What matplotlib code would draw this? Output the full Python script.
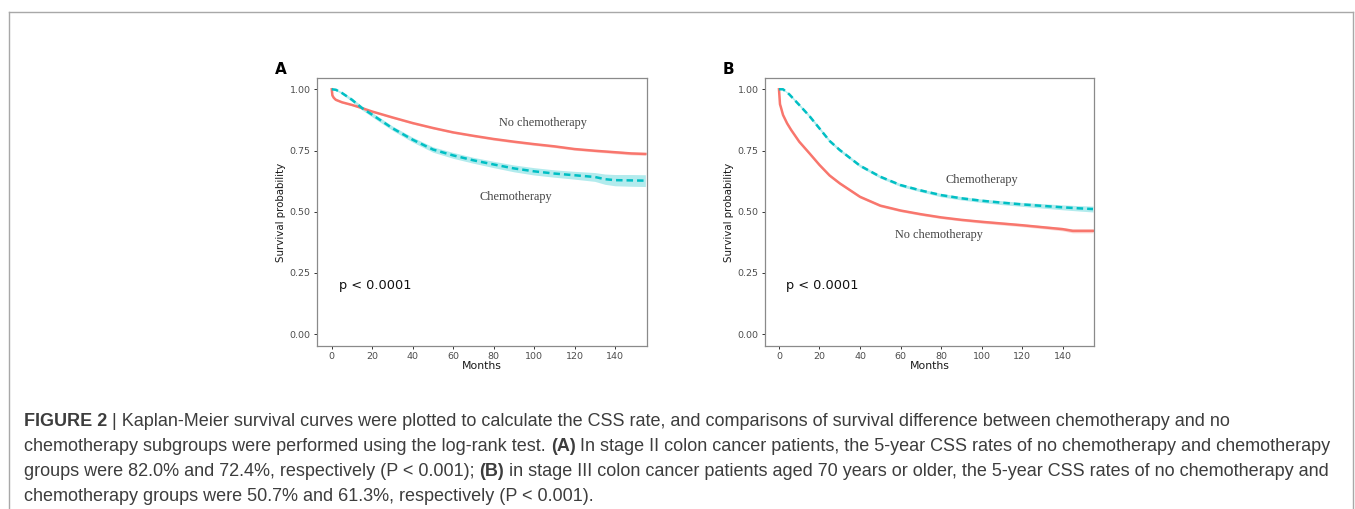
import matplotlib
matplotlib.use("Agg")
import matplotlib.pyplot as plt
import numpy as np

# ---------------- data ----------------
a_nochemo_t = [0, 0.3, 1, 2, 5, 10, 15, 20, 30, 40, 50, 60, 70, 80, 90, 100, 110, 120, 130, 140, 148, 155]
a_nochemo_s = [1.0, 0.975, 0.965, 0.957, 0.947, 0.936, 0.923, 0.909, 0.885, 0.862, 0.842, 0.824, 0.810, 0.797, 0.786, 0.776, 0.767, 0.756, 0.749, 0.743, 0.738, 0.736]
a_nochemo_ci = [0.0, 0.002, 0.002, 0.003, 0.003, 0.003, 0.003, 0.003, 0.004, 0.004, 0.004, 0.004, 0.004, 0.005, 0.005, 0.005, 0.005, 0.005, 0.005, 0.006, 0.006, 0.006]

a_chemo_t = [0, 2, 5, 10, 15, 20, 30, 40, 50, 60, 70, 80, 90, 100, 110, 120, 130, 135, 140, 148, 155]
a_chemo_s = [1.0, 0.998, 0.985, 0.957, 0.923, 0.896, 0.841, 0.794, 0.754, 0.730, 0.710, 0.693, 0.677, 0.665, 0.656, 0.649, 0.642, 0.633, 0.629, 0.628, 0.627]
a_chemo_ci = [0.0, 0.003, 0.005, 0.007, 0.008, 0.009, 0.009, 0.010, 0.011, 0.012, 0.012, 0.013, 0.014, 0.015, 0.015, 0.016, 0.018, 0.021, 0.023, 0.024, 0.024]

b_nochemo_t = [0, 0.5, 1, 2, 4, 6, 10, 15, 20, 25, 30, 40, 50, 60, 70, 80, 90, 100, 110, 120, 130, 140, 145, 155]
b_nochemo_s = [1.0, 0.939, 0.925, 0.895, 0.861, 0.834, 0.786, 0.739, 0.691, 0.648, 0.616, 0.561, 0.525, 0.505, 0.490, 0.477, 0.467, 0.459, 0.452, 0.445, 0.437, 0.429, 0.422, 0.422]
b_nochemo_ci = [0.0, 0.004, 0.004, 0.005, 0.005, 0.005, 0.005, 0.005, 0.005, 0.005, 0.005, 0.005, 0.005, 0.005, 0.005, 0.005, 0.005, 0.006, 0.006, 0.006, 0.006, 0.007, 0.008, 0.008]

b_chemo_t = [0, 2, 5, 10, 15, 20, 25, 30, 40, 50, 60, 70, 80, 90, 100, 110, 120, 130, 140, 148, 155]
b_chemo_s = [1.0, 1.0, 0.980, 0.936, 0.891, 0.840, 0.789, 0.752, 0.688, 0.643, 0.609, 0.587, 0.568, 0.555, 0.545, 0.537, 0.530, 0.524, 0.518, 0.514, 0.511]
b_chemo_ci = [0.0, 0.002, 0.004, 0.005, 0.006, 0.006, 0.006, 0.006, 0.006, 0.006, 0.006, 0.006, 0.007, 0.007, 0.007, 0.008, 0.008, 0.009, 0.010, 0.011, 0.012]

x_ticks = [0, 20, 40, 60, 80, 100, 120, 140]
y_ticks = [0.00, 0.25, 0.50, 0.75, 1.00]
y_ticklabels = ["0.00", "0.25", "0.50", "0.75", "1.00"]

panels = [
    dict(letter="A",
         red=(a_nochemo_t, a_nochemo_s, a_nochemo_ci),
         teal=(a_chemo_t, a_chemo_s, a_chemo_ci),
         labels=[("No chemotherapy", 104.4, 0.862), ("Chemotherapy", 91, 0.56)]),
    dict(letter="B",
         red=(b_nochemo_t, b_nochemo_s, b_nochemo_ci),
         teal=(b_chemo_t, b_chemo_s, b_chemo_ci),
         labels=[("Chemotherapy", 100, 0.63), ("No chemotherapy", 79, 0.405)]),
]

caption_lines = [
    [("FIGURE 2", "bold"), (" | Kaplan-Meier survival curves were plotted to calculate the CSS rate, and comparisons of survival difference between chemotherapy and no", "normal")],
    [("chemotherapy subgroups were performed using the log-rank test. ", "normal"), ("(A)", "bold"), (" In stage II colon cancer patients, the 5-year CSS rates of no chemotherapy and chemotherapy", "normal")],
    [("groups were 82.0% and 72.4%, respectively (P < 0.001); ", "normal"), ("(B)", "bold"), (" in stage III colon cancer patients aged 70 years or older, the 5-year CSS rates of no chemotherapy and", "normal")],
    [("chemotherapy groups were 50.7% and 61.3%, respectively (P < 0.001).", "normal")],
]

# ---------------- figure ----------------
W, H = 1355, 509
fig = plt.figure(figsize=(W / 100, H / 100), dpi=100)

RED = "#F8766D"
TEAL = "#00BFC4"

ax_rects = [
    (317 / W, 1 - 346 / H, 330 / W, 268 / H),
    (765 / W, 1 - 346 / H, 329 / W, 268 / H),
]
xlims = [(-7.3, 155.8), (-6.9, 155.5)]

for p, rect, xl in zip(panels, ax_rects, xlims):
    ax = fig.add_axes(rect)
    for key, col, dashed in (("red", RED, False), ("teal", TEAL, True)):
        t, s, ci = p[key]
        t = np.array(t); s = np.array(s); ci = np.array(ci)
        ax.fill_between(t, s - ci, s + ci, color=col, alpha=0.3, lw=0)
        if dashed:
            ax.plot(t, s, color=col, lw=1.8, dashes=(2.6, 1.6), solid_capstyle="butt")
        else:
            ax.plot(t, s, color=col, lw=1.8)
    ax.set_xlim(*xl)
    ax.set_ylim(-0.048, 1.046)
    ax.set_xticks(x_ticks)
    ax.set_yticks(y_ticks)
    ax.set_yticklabels(y_ticklabels)
    ax.tick_params(labelsize=6.8, labelcolor="#4D4D4D", color="#333333", length=2.5, width=0.7, pad=2)
    for sp in ax.spines.values():
        sp.set_color("#8a8a8a")
        sp.set_linewidth(0.9)
    ax.set_xlabel("Months", fontsize=7.8, color="#1a1a1a", labelpad=0)
    ax.set_ylabel("Survival probability", fontsize=7.4, color="#1a1a1a", labelpad=3)
    ax.text(3.7, 0.197, "p < 0.0001", fontsize=9.3, color="#111111", va="center", ha="left")
    for txt, x, y in p["labels"]:
        ax.text(x, y, txt, fontsize=8.8, family="Liberation Serif", color="#444444", ha="center", va="center")
    fig.text((rect[0] * W - 42) / W, 1 - 70 / H, p["letter"], fontsize=11, weight="bold", ha="left", va="center")

# figure border (left, top, right)
fig.add_artist(plt.Line2D([9 / W, 9 / W], [0, 1 - 12 / H], color="#a8a8a8", lw=1.0))
fig.add_artist(plt.Line2D([9 / W, 1353 / W], [1 - 12 / H, 1 - 12 / H], color="#a8a8a8", lw=1.0))
fig.add_artist(plt.Line2D([1353 / W, 1353 / W], [0, 1 - 12 / H], color="#a8a8a8", lw=1.0))

# caption with mixed weights
fig.canvas.draw()
renderer = fig.canvas.get_renderer()
cap_kw = dict(fontsize=13.0, family="Liberation Sans", color="#3d3d3d", va="baseline", ha="left")

def text_width(s, weight):
    t = fig.text(0, 0, s, weight=weight, **cap_kw)
    w = t.get_window_extent(renderer).width
    t.remove()
    return w

space_w = text_width("a a", "normal") - text_width("aa", "normal")
line_y = [426, 451, 476, 501]
for pieces, yy in zip(caption_lines, line_y):
    x = 24.0
    for s, weight in pieces:
        lead = len(s) - len(s.lstrip(" "))
        x += lead * space_w
        core = s.strip(" ")
        t = fig.text(x / W, 1 - yy / H, core, weight=weight, **cap_kw)
        x += t.get_window_extent(renderer).width
        trail = len(s) - len(s.rstrip(" "))
        x += trail * space_w

fig.savefig("out.png", dpi=100)
